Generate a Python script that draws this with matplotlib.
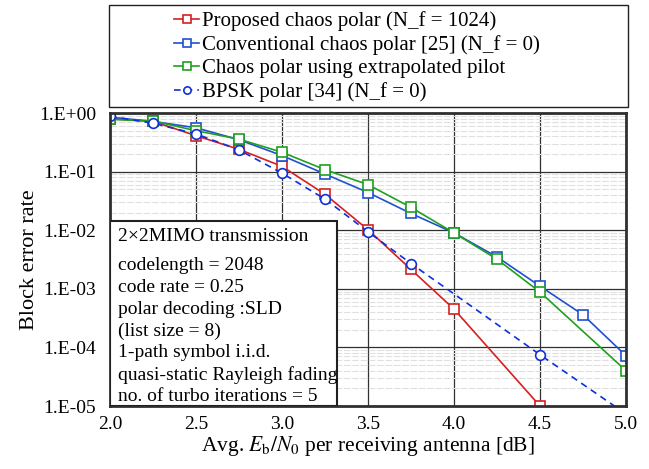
import numpy as np
import matplotlib
matplotlib.use("Agg")
import matplotlib.pyplot as plt
from matplotlib.patches import Rectangle
from matplotlib.ticker import FuncFormatter, LogLocator, MultipleLocator

plt.rcParams['font.family'] = ['Liberation Serif', 'DejaVu Serif']
plt.rcParams['mathtext.fontset'] = 'stix'

# ------ dati
snr_prop = [2.0, 2.25, 2.5, 2.75, 3.0, 3.25, 3.5, 3.75, 4.0, 4.5]
bler_prop = [0.80, 0.72, 0.41, 0.24, 0.123, 0.041, 0.0102, 0.00214, 0.00045, 1.0e-5]

snr_conv = [2.0, 2.25, 2.5, 2.75, 3.0, 3.25, 3.5, 3.75, 4.0, 4.25, 4.5, 4.75, 5.0]
bler_conv = [0.85, 0.72, 0.56, 0.35, 0.188, 0.091, 0.044, 0.0193, 0.0090, 0.0035, 0.00111, 0.00036, 7.2e-5]

snr_extra = [2.0, 2.25, 2.5, 2.75, 3.0, 3.25, 3.5, 3.75, 4.0, 4.25, 4.5, 5.0]
bler_extra = [0.78, 0.73, 0.50, 0.358, 0.214, 0.108, 0.060, 0.0245, 0.0090, 0.0032, 0.00088, 4.0e-5]

snr_bpsk = [2.0, 2.25, 2.5, 2.75, 3.0, 3.25, 3.5, 3.75, 4.5, 5.0]
bler_bpsk = [0.88, 0.67, 0.44, 0.235, 0.094, 0.034, 0.0094, 0.0027, 7.5e-5, 7.3e-6]

etichette = [
    "Proposed chaos polar (N_f = 1024)",
    "Conventional chaos polar [25] (N_f = 0)",
    "Chaos polar using extrapolated pilot",
    "BPSK polar [34] (N_f = 0)",
]

condizioni = [
    "2\u00d72MIMO transmission",
    "codelength = 2048",
    "code rate = 0.25",
    "polar decoding :SLD",
    "(list size = 8)",
    "1-path symbol i.i.d.",
    "quasi-static Rayleigh fading",
    "no. of turbo iterations = 5",
]

rosso = '#d42020'
blu = '#2050d0'
verde = '#20a020'
blu_bpsk = '#1030d8'

fig = plt.figure(figsize=(6.49, 4.69), dpi=100)
ax = fig.add_axes([0.1695, 0.1343, 0.7951, 0.6247])

ms = 7
l1, = ax.plot(snr_prop, bler_prop, '-s', color=rosso, lw=1.2, ms=ms, mfc='white', mew=1.2)
l2, = ax.plot(snr_conv, bler_conv, '-s', color=blu, lw=1.2, ms=ms, mfc='white', mew=1.2)
l3, = ax.plot(snr_extra, bler_extra, '-s', color=verde, lw=1.2, ms=ms, mfc='white', mew=1.2)
l4, = ax.plot(snr_bpsk, bler_bpsk, '--o', color=blu_bpsk, lw=1.2, ms=ms, mfc='white', mew=1.2,
              dashes=(4, 3))

ax.set_yscale('log')
ax.set_xlim(2.0, 5.0)
ax.set_ylim(1e-5, 1e0)
ax.xaxis.set_major_locator(MultipleLocator(0.5))
ax.xaxis.set_major_formatter(FuncFormatter(lambda v, p: f"{v:.1f}"))
ax.yaxis.set_major_locator(LogLocator(base=10, numticks=10))
ax.yaxis.set_minor_locator(LogLocator(base=10, subs=np.arange(2, 10), numticks=10))
ax.yaxis.set_major_formatter(FuncFormatter(lambda v, p: f"1.E{int(round(np.log10(v))):+03d}"))
ax.yaxis.set_minor_formatter(FuncFormatter(lambda v, p: ""))

ax.grid(True, which='major', color='#303030', lw=0.9, ls='-')
ax.grid(True, which='minor', axis='y', color='#e0e0e0', lw=0.8, ls=(0, (6, 1.5)))
ax.set_axisbelow(True)
ax.tick_params(axis='y', which='both', length=0, labelsize=14, pad=10)
ax.tick_params(axis='x', which='both', length=0, labelsize=14, pad=7)

for s in ax.spines.values():
    s.set_color('#303030')
    s.set_linewidth(2)

ax.set_ylabel("Block error rate", fontsize=16, labelpad=0)
ax.set_xlabel(r"Avg. $E_\mathrm{b}/N_0$ per receiving antenna [dB]", fontsize=15.5, labelpad=1)

# ------ riquadro condizioni
box_w = (337 - 110) / 516
box_h = (406 - 221) / 293
ax.add_patch(Rectangle((0, 0), box_w, box_h, transform=ax.transAxes, facecolor='white',
                       edgecolor='#202020', lw=1.5, zorder=5))
ypos = [0.577, 0.478, 0.403, 0.328, 0.256, 0.181, 0.106, 0.034]
for testo, yy in zip(condizioni, ypos):
    ax.text(0.0155, yy, testo, transform=ax.transAxes, fontsize=14, va='center', ha='left', zorder=6)

# ------ legenda sopra il grafico
fig.patches.append(Rectangle((109 / 649, 1 - 107 / 469), (628 - 109) / 649, (107 - 5) / 469,
                             transform=fig.transFigure, facecolor='white', edgecolor='#202020',
                             lw=1.0, zorder=0))
leg = fig.legend([l1, l2, l3, l4], etichette, loc='upper left',
                 bbox_to_anchor=(166 / 649, 1 - 3 / 469), frameon=False, fontsize=15,
                 handlelength=1.2, handletextpad=0.15, labelspacing=0.18, markerscale=0.75,
                 borderaxespad=0)

fig.savefig("out.png", dpi=100)
